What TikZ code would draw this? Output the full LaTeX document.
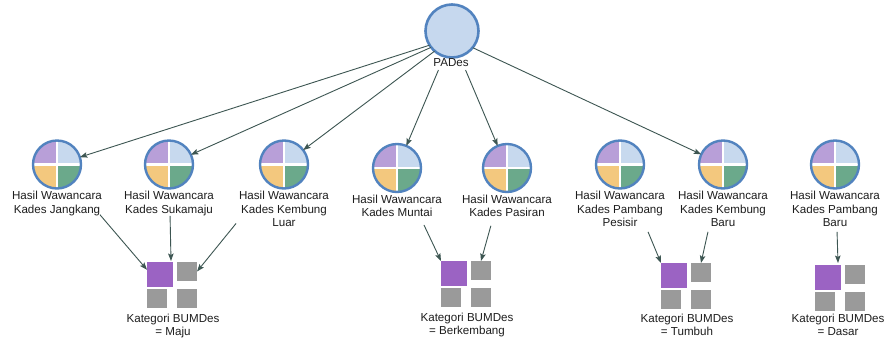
\documentclass[tikz,border=0pt]{standalone}
\usepackage{fontspec}
\setmainfont{Liberation Sans}
\usetikzlibrary{arrows.meta,calc}
\definecolor{bordc}{HTML}{5283BF}
\definecolor{padesfill}{HTML}{C6D8EE}
\definecolor{qpurple}{HTML}{B89FD8}
\definecolor{qblue}{HTML}{C7D9EE}
\definecolor{qyellow}{HTML}{F3C87E}
\definecolor{qgreen}{HTML}{6BA98B}
\definecolor{sqpurple}{HTML}{9B63C3}
\definecolor{sqgray}{HTML}{9A9A9A}
\definecolor{arrc}{HTML}{3D5652}
\definecolor{txtc}{HTML}{1E1E1E}
\tikzset{
  padesnode/.style={circle, minimum size=53pt, inner sep=0pt, outer sep=0pt, draw=bordc, line width=2.6pt, fill=padesfill},
  quad/.style={circle, minimum size=48pt, inner sep=0pt, outer sep=0pt, draw=bordc, line width=2.4pt,
    path picture={
      \fill[qpurple] (path picture bounding box.center) rectangle (path picture bounding box.north west);
      \fill[qblue] (path picture bounding box.center) rectangle (path picture bounding box.north east);
      \fill[qyellow] (path picture bounding box.center) rectangle (path picture bounding box.south west);
      \fill[qgreen] (path picture bounding box.center) rectangle (path picture bounding box.south east);
      \draw[white, line width=2.6pt] (path picture bounding box.north) -- (path picture bounding box.south)
        (path picture bounding box.west) -- (path picture bounding box.east);
    }},
  lbl/.style={inner sep=0pt, outer sep=0pt, align=center, text=txtc, font=\fontsize{11.6}{13.5}\selectfont, anchor=north},
  glbl/.style={inner sep=0pt, outer sep=0pt, align=center, text=txtc, font=\fontsize{11.6}{13}\selectfont, anchor=north},
  psq/.style={rectangle, fill=sqpurple, minimum width=26pt, minimum height=25pt, inner sep=0pt, outer sep=0pt},
  gsq/.style={rectangle, fill=sqgray, minimum width=20pt, minimum height=19pt, inner sep=0pt, outer sep=0pt},
  arr/.style={draw=arrc, line width=0.9pt, -{Stealth[length=7.5pt, width=5.5pt, inset=1.5pt]}},
}
\begin{document}
\begin{tikzpicture}[x=1pt, y=-1pt]
\fill[white] (0,0) rectangle (886,338);
\useasboundingbox (0,0) rectangle (886,338);

% top node
\node[padesnode] (pades) at (452,31) {};
\node[inner sep=0pt, outer sep=0pt, text=txtc, font=\fontsize{11.6}{13.5}\selectfont] (padesl) at (451,63) {PADes};
\coordinate (pc) at ($(pades)+(0,7)$);

% interview circles
\node[quad] (c1) at (57,164.5) {};
\node[quad] (c2) at (169,164.5) {};
\node[quad] (c3) at (284,164.5) {};
\node[quad] (c4) at (397,168) {};
\node[quad] (c5) at (507,168) {};
\node[quad] (c6) at (620,164.5) {};
\node[quad] (c7) at (723,164.5) {};
\node[quad] (c8) at (835,164.5) {};

\node[lbl] (l1) at ($(c1)+(0,27)$) {Hasil Wawancara\\Kades Jangkang};
\node[lbl] (l2) at ($(c2)+(0,27)$) {Hasil Wawancara\\Kades Sukamaju};
\node[lbl] (l3) at ($(c3)+(0,27)$) {Hasil Wawancara\\Kades Kembung\\Luar};
\node[lbl] (l4) at ($(c4)+(0,27)$) {Hasil Wawancara\\Kades Muntai};
\node[lbl] (l5) at ($(c5)+(0,27)$) {Hasil Wawancara\\Kades Pasiran};
\node[lbl] (l6) at ($(c6)+(0,27)$) {Hasil Wawancara\\Kades Pambang\\Pesisir};
\node[lbl] (l7) at ($(c7)+(0,27)$) {Hasil Wawancara\\Kades Kembung\\Baru};
\node[lbl] (l8) at ($(c8)+(0,27)$) {Hasil Wawancara\\Kades Pambang\\Baru};

% category groups
% Maju
\node[psq] (p1) at (160,274.5) {};
\node[gsq] (q1) at (187,271.5) {};
\node[gsq] (r1) at (157,298.5) {};
\node[gsq] (s1) at (187,298.5) {};
\node[glbl] (k1) at (173,314) {Kategori BUMDes\\= Maju};
% Berkembang
\node[psq] (p2) at (454,273.5) {};
\node[gsq] (q2) at (481,270.5) {};
\node[gsq] (r2) at (451,297.5) {};
\node[gsq] (s2) at (481,297.5) {};
\node[glbl] (k2) at (467,313) {Kategori BUMDes\\= Berkembang};
% Tumbuh
\node[psq] (p3) at (674,275.5) {};
\node[gsq] (q3) at (701,272.5) {};
\node[gsq] (r3) at (671,299.5) {};
\node[gsq] (s3) at (701,299.5) {};
\node[glbl] (k3) at (687,314.5) {Kategori BUMDes\\= Tumbuh};
% Dasar
\node[psq] (p4) at (828,277.5) {};
\node[gsq] (q4) at (855,274.5) {};
\node[gsq] (r4) at (825,301.5) {};
\node[gsq] (s4) at (855,301.5) {};
\node[glbl] (k4) at (838,314.5) {Kategori BUMDes\\= Dasar};

% arrows from PADes
\draw[arr, shorten <=23.7pt] (pc) -- (c1);
\draw[arr, shorten <=23.1pt] (pc) -- (c2);
\draw[arr, shorten <=21.9pt] (pc) -- (c3);
\draw[arr, shorten <=34.8pt] (pc) -- (c4);
\draw[arr, shorten <=34.8pt] (pc) -- (c5);
\draw[arr, shorten <=23pt] (pc) -- (c7);

% arrows to categories
\draw[arr, shorten <=42pt] (c1) -- (p1.160);
\draw[arr, shorten <=27.5pt] (c2) -- ($(p1.north east)+(-2,-1)$);
\draw[arr, shorten <=52pt] (c3) -- (q1.east);
\draw[arr, shorten <=39pt] (c4) -- (p2.north west);
\draw[arr, shorten <=36pt] (c5) -- (q2.north);
\draw[arr, shorten <=49pt] (c6) -- (p3.north west);
\draw[arr, shorten <=45pt] (c7) -- (q3.north);
\draw[arr, shorten <=43.5pt] (c8) -- ($(p4.north east)+(-3,-2)$);
\end{tikzpicture}
\end{document}
